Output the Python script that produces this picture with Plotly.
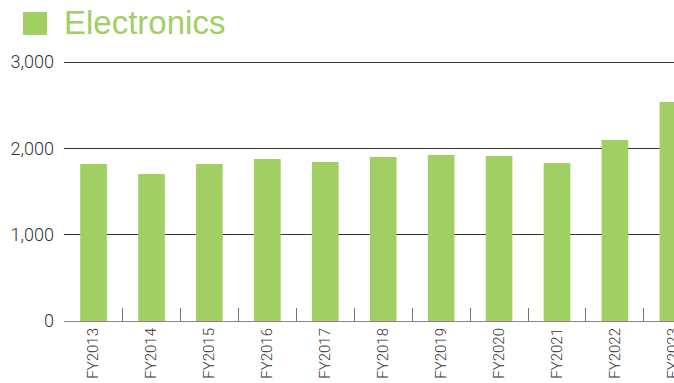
import plotly.graph_objects as go

categories = ["FY2013", "FY2014", "FY2015", "FY2016", "FY2017", "FY2018",
              "FY2019", "FY2020", "FY2021", "FY2022", "FY2023"]
values = [1820, 1703, 1820, 1877, 1842, 1900, 1923, 1911, 1831, 2097, 2538]
y_ticks = [0, 1000, 2000, 3000]
y_tick_labels = ["0", "1,000", "2,000", "3,000"]
series_name = "Electronics"

green = "#a1cf63"

fig = go.Figure()
fig.add_trace(go.Bar(
    x=categories,
    y=values,
    marker=dict(color=green, line=dict(width=0)),
    width=0.46,
    name=series_name,
    showlegend=False,
))

fig.update_layout(
    template="none",
    width=674, height=383,
    margin=dict(l=64, r=0, t=60, b=62, autoexpand=False),
    paper_bgcolor="white", plot_bgcolor="white",
    font=dict(family="Roboto", color="#333333"),
)

fig.update_xaxes(
    type="category",
    categoryorder="array", categoryarray=categories,
    range=[-0.51, 10.02],
    tickangle=-90,
    tickfont=dict(family="Roboto", size=15, color="#333333", weight=300),
    showgrid=False,
    showline=True, linecolor="#888888", linewidth=1,
    ticks="inside", tickson="boundaries", ticklen=13, tickcolor="#777777", tickwidth=1,
    zeroline=False,
    automargin=False,
)

fig.update_yaxes(
    range=[0, 3023.3],
    tickmode="array",
    tickvals=y_ticks,
    ticktext=y_tick_labels,
    tickfont=dict(family="Roboto", size=18, color="#333333", weight=300),
    showgrid=True, gridcolor="#333333", gridwidth=1,
    zeroline=False,
    showline=False,
    ticks="",
    ticklabelstandoff=9,
    automargin=False,
)

# Title legend-like square and text (paper coords relative to plot area)
fig.add_shape(type="rect", xref="paper", yref="paper",
              x0=-0.0672, x1=-0.0279, y0=1.096, y1=1.184,
              fillcolor=green, line=dict(width=0))
fig.add_annotation(text=series_name, xref="paper", yref="paper",
                   x=-0.004, y=1.142, xanchor="left", yanchor="middle",
                   showarrow=False,
                   font=dict(family="Liberation Sans", size=33, color=green))

fig.write_html("out.html",
               config={"displayModeBar": False},
               post_script="document.body.style.margin='0';document.body.style.overflow='hidden';")
